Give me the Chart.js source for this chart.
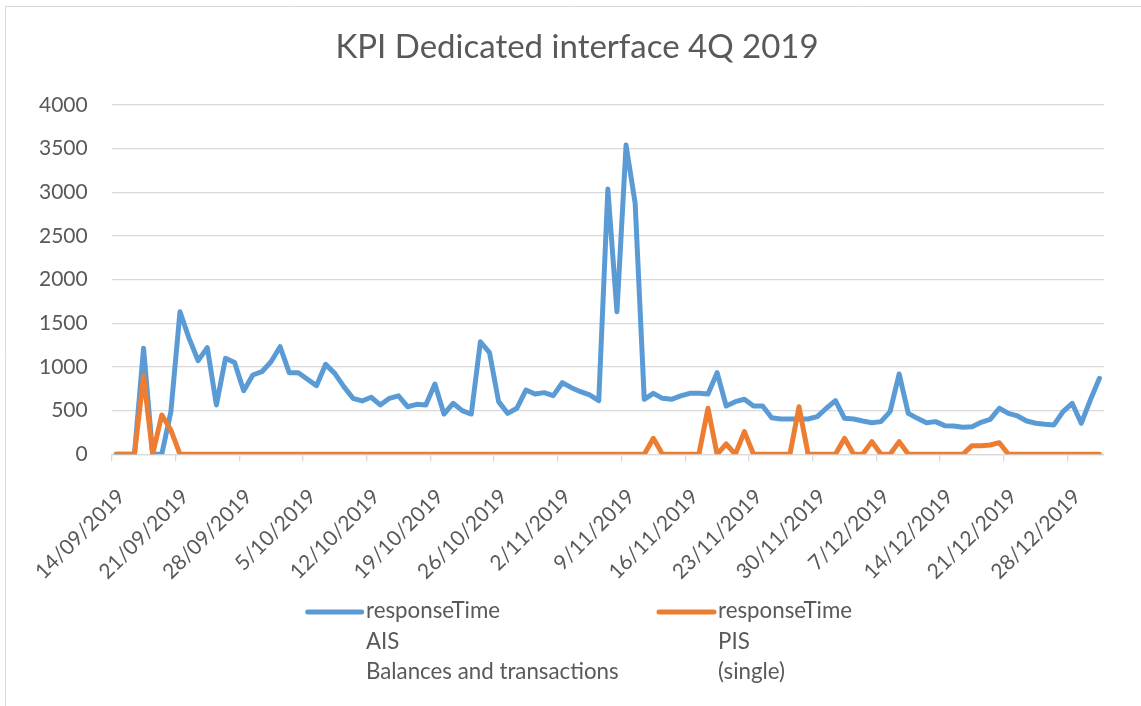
<!DOCTYPE html>
<html><head><meta charset="utf-8">
<script src="https://cdn.jsdelivr.net/npm/chart.js@4.4.0/dist/chart.umd.min.js"></script>
<style>html,body{margin:0;padding:0;background:#fff;}canvas{display:block;}</style>
</head><body>
<canvas id="c" width="1141" height="706"></canvas>
<script>
const chartTitle = 'KPI Dedicated interface 4Q 2019';
const categories = [
 '14/09/2019','15/09/2019','16/09/2019','17/09/2019','18/09/2019','19/09/2019','20/09/2019','21/09/2019','22/09/2019','23/09/2019',
 '24/09/2019','25/09/2019','26/09/2019','27/09/2019','28/09/2019','29/09/2019','30/09/2019',
 '1/10/2019','2/10/2019','3/10/2019','4/10/2019','5/10/2019','6/10/2019','7/10/2019','8/10/2019','9/10/2019','10/10/2019',
 '11/10/2019','12/10/2019','13/10/2019','14/10/2019','15/10/2019','16/10/2019','17/10/2019','18/10/2019','19/10/2019','20/10/2019',
 '21/10/2019','22/10/2019','23/10/2019','24/10/2019','25/10/2019','26/10/2019','27/10/2019','28/10/2019','29/10/2019','30/10/2019','31/10/2019',
 '1/11/2019','2/11/2019','3/11/2019','4/11/2019','5/11/2019','6/11/2019','7/11/2019','8/11/2019','9/11/2019','10/11/2019',
 '11/11/2019','12/11/2019','13/11/2019','14/11/2019','15/11/2019','16/11/2019','17/11/2019','18/11/2019','19/11/2019','20/11/2019',
 '21/11/2019','22/11/2019','23/11/2019','24/11/2019','25/11/2019','26/11/2019','27/11/2019','28/11/2019','29/11/2019','30/11/2019',
 '1/12/2019','2/12/2019','3/12/2019','4/12/2019','5/12/2019','6/12/2019','7/12/2019','8/12/2019','9/12/2019','10/12/2019',
 '11/12/2019','12/12/2019','13/12/2019','14/12/2019','15/12/2019','16/12/2019','17/12/2019','18/12/2019','19/12/2019','20/12/2019',
 '21/12/2019','22/12/2019','23/12/2019','24/12/2019','25/12/2019','26/12/2019','27/12/2019','28/12/2019','29/12/2019','30/12/2019','31/12/2019'
];
const aisResponseTime = [
 0,0,0,1214,0,0,488,1633,1328,1072,
 1221,565,1099,1050,728,908,946,1060,1232,935,
 935,859,786,1030,927,775,641,611,653,565,
 641,670,545,572,565,805,461,584,500,461,
 1289,1164,603,469,527,736,690,706,672,820,
 763,717,680,615,3038,1633,3541,2874,630,698,
 641,630,668,698,698,690,935,553,603,630,
 553,553,419,404,404,404,404,431,527,615,
 412,404,381,362,374,488,920,469,412,362,
 374,328,324,309,316,366,400,527,469,439,
 381,355,343,336,488,584,355,622,870
];
const pisResponseTime = [
 0,0,0,896,0,450,278,0,0,0,
 0,0,0,0,0,0,0,0,0,0,
 0,0,0,0,0,0,0,0,0,0,
 0,0,0,0,0,0,0,0,0,0,
 0,0,0,0,0,0,0,0,0,0,
 0,0,0,0,0,0,0,0,0,183,
 0,0,0,0,0,527,0,118,0,259,
 0,0,0,0,0,545,0,0,0,0,
 183,0,0,145,0,0,145,0,0,0,
 0,0,0,0,99,99,106,133,0,0,
 0,0,0,0,0,0,0,0,0
];
const aisLegendLines = ['responseTime','AIS','Balances and transactions'];
const pisLegendLines = ['responseTime','PIS','(single)'];
const yTickValues = [0,500,1000,1500,2000,2500,3000,3500,4000];
const labelEvery = 7;

const FONT = 'Lato';
const TEXT = '#595959';
const GRID = '#d9d9d9';
const BLUE = '#5B9BD5';
const ORANGE = '#ED7D31';

const legendPlugin = {
  id: 'excelLegend',
  beforeDraw(chart) {
    const ctx = chart.ctx;
    ctx.save();
    ctx.fillStyle = '#fff';
    ctx.fillRect(0, 0, chart.width, chart.height);
    ctx.strokeStyle = GRID;
    ctx.lineWidth = 1;
    ctx.beginPath();
    ctx.moveTo(5.5, chart.height); ctx.lineTo(5.5, 6.5); ctx.lineTo(chart.width, 6.5);
    ctx.stroke();
    ctx.restore();
  },
  afterDraw(chart) {
    const ctx = chart.ctx;
    const items = [
      {lines: aisLegendLines, color: BLUE, x0: 307.7, x1: 361.7, tx: 366},
      {lines: pisLegendLines, color: ORANGE, x0: 659, x1: 714, tx: 718}
    ];
    ctx.save();
    items.forEach(it => {
      ctx.strokeStyle = it.color;
      ctx.lineWidth = 5;
      ctx.lineCap = 'round';
      ctx.beginPath();
      ctx.moveTo(it.x0, 612); ctx.lineTo(it.x1, 612);
      ctx.stroke();
      ctx.fillStyle = TEXT;
      ctx.font = '22.3px ' + FONT;
      ctx.textAlign = 'left';
      ctx.textBaseline = 'alphabetic';
      it.lines.forEach((t, k) => ctx.fillText(t, it.tx, 618 + k * 30.5));
    });
    ctx.restore();
  }
};

new Chart(document.getElementById('c'), {
  type: 'line',
  data: {
    labels: categories,
    datasets: [
      {label: aisLegendLines.join(' '), data: aisResponseTime, borderColor: BLUE, backgroundColor: BLUE,
       borderWidth: 5, pointRadius: 0, tension: 0, borderCapStyle: 'round', borderJoinStyle: 'round', order: 2},
      {label: pisLegendLines.join(' '), data: pisResponseTime, borderColor: ORANGE, backgroundColor: ORANGE,
       borderWidth: 5, pointRadius: 0, tension: 0, borderCapStyle: 'round', borderJoinStyle: 'round', order: 1}
    ]
  },
  options: {
    responsive: false,
    animation: false,
    devicePixelRatio: 1,
    layout: {padding: {left: 13, right: 0, top: 0, bottom: 0}},
    plugins: {
      legend: {display: false},
      tooltip: {enabled: false},
      title: {display: true, text: chartTitle, color: TEXT,
        font: {family: FONT, size: 33, weight: 'normal', lineHeight: 1.2},
        padding: {top: 28, bottom: 37.4}}
    },
    scales: {
      x: {
        offset: true,
        afterFit: s => { s.height = 706 - 454.3; },
        border: {display: true, color: GRID, width: 1.3},
        grid: {offset: true, drawOnChartArea: false, drawTicks: true, tickLength: 7,
          color: c => (c.index !== undefined && c.index % labelEvery === 0) ? GRID : 'rgba(0,0,0,0)', lineWidth: 1.3},
        ticks: {autoSkip: false, minRotation: 45, maxRotation: 45, color: TEXT, padding: 23, labelOffset: 5,
          font: {family: FONT, size: 21},
          callback: function(v, i) { return i % labelEvery === 0 ? this.getLabelForValue(v) : ''; }}
      },
      y: {
        min: yTickValues[0], max: yTickValues[yTickValues.length - 1],
        afterFit: s => { s.width = 111.7 - 13; },
        afterBuildTicks: s => { s.ticks = yTickValues.map(v => ({value: v})); },
        border: {display: false},
        grid: {color: GRID, lineWidth: 1.3, drawTicks: false},
        ticks: {color: TEXT, padding: 24, font: {family: FONT, size: 21}, callback: v => String(v)}
      },
      yRightSpace: {
        type: 'linear', position: 'right', display: true,
        afterFit: s => { s.width = 37; },
        border: {display: false},
        grid: {display: false, drawOnChartArea: false},
        ticks: {display: false}
      }
    }
  },
  plugins: [legendPlugin]
});
</script>
</body></html>
